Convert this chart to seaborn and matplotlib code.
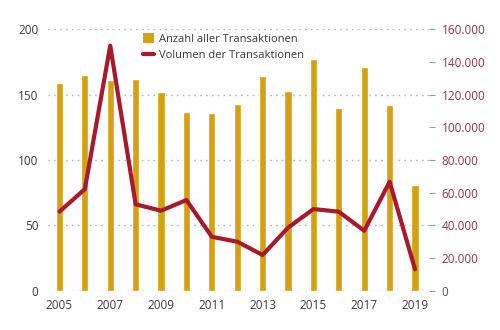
import numpy as np
import pandas as pd
import matplotlib
matplotlib.use("Agg")
import matplotlib.pyplot as plt
import seaborn as sns
from matplotlib.patches import Patch
from matplotlib.lines import Line2D
from matplotlib.ticker import FuncFormatter

years = [2005, 2006, 2007, 2008, 2009, 2010, 2011, 2012, 2013, 2014, 2015, 2016, 2017, 2018, 2019]
anzahl = [159, 165, 161, 162, 152, 137, 136, 143, 164, 153, 177, 140, 171, 142, 81]
volumen = [48400, 62200, 150000, 52900, 49000, 55500, 33000, 30000, 21900, 38600, 50000, 48400, 36700, 66700, 13100]
left_ticks = [0, 50, 100, 150, 200]
right_ticks = [0, 20000, 40000, 60000, 80000, 100000, 120000, 140000, 160000]
label_bars = "Anzahl aller Transaktionen"
label_line = "Volumen der Transaktionen"

gold = "#D5A011"
red = "#A8192B"
maroon = "#8E3A4C"
textgray = "#3A3A3A"

sns.set_theme(style="white")
plt.rcParams["font.family"] = ["Open Sans", "DejaVu Sans"]

df = pd.DataFrame({"year": [str(y) for y in years], "anzahl": anzahl, "volumen": volumen, "idx": np.arange(len(years))})

fig = plt.figure(figsize=(5, 3.3), dpi=100)
ax = fig.add_axes([0.096, 0.119, 0.762, 0.792])
sns.barplot(data=df, x="year", y="anzahl", color=gold, width=0.28, saturation=1, ax=ax)
ax.set_ylim(0, 200)
ax.set_xlim(-0.45, 14.55)
ax.set_yticks(left_ticks)
ax.yaxis.grid(True, color="#b5b5b5", linestyle=(0, (1.2, 3)), linewidth=1.0)
ax.set_axisbelow(True)
for s in ax.spines.values():
    s.set_visible(False)
ax.set_xticks(range(0, len(years), 2))
ax.set_xticklabels([str(y) for y in years[::2]])
ax.tick_params(axis="both", length=0, labelsize=8.5, labelcolor=textgray)
ax.tick_params(axis="y", pad=7)
ax.tick_params(axis="x", pad=6)
ax.set_xlabel("")
ax.set_ylabel("")

ax2 = ax.twinx()
sns.lineplot(data=df, x="idx", y="volumen", color=red, linewidth=3.0, ax=ax2)
ax2.set_ylim(0, 160000)
ax2.set_xlim(-0.45, 14.55)
ax2.set_yticks(right_ticks)
ax2.yaxis.set_major_formatter(FuncFormatter(lambda v, p: f"{int(v):,}".replace(",", ".")))
for s in ax2.spines.values():
    s.set_visible(False)
ax2.tick_params(axis="y", length=4, width=0.8, color="#999999", labelsize=8.5, labelcolor=maroon, pad=5)
ax2.set_xlabel("")
ax2.set_ylabel("")

handles = [Patch(facecolor=gold, edgecolor="none"), Line2D([0], [0], color=red, linewidth=3)]
fig.legend(handles, [label_bars, label_line], loc="upper left", bbox_to_anchor=(0.277, 0.912),
           frameon=False, fontsize=8, labelcolor=textgray, handlelength=1.0, handleheight=0.9,
           handletextpad=0.45, labelspacing=0.45, borderaxespad=0)

fig.savefig("out.png", dpi=100)
